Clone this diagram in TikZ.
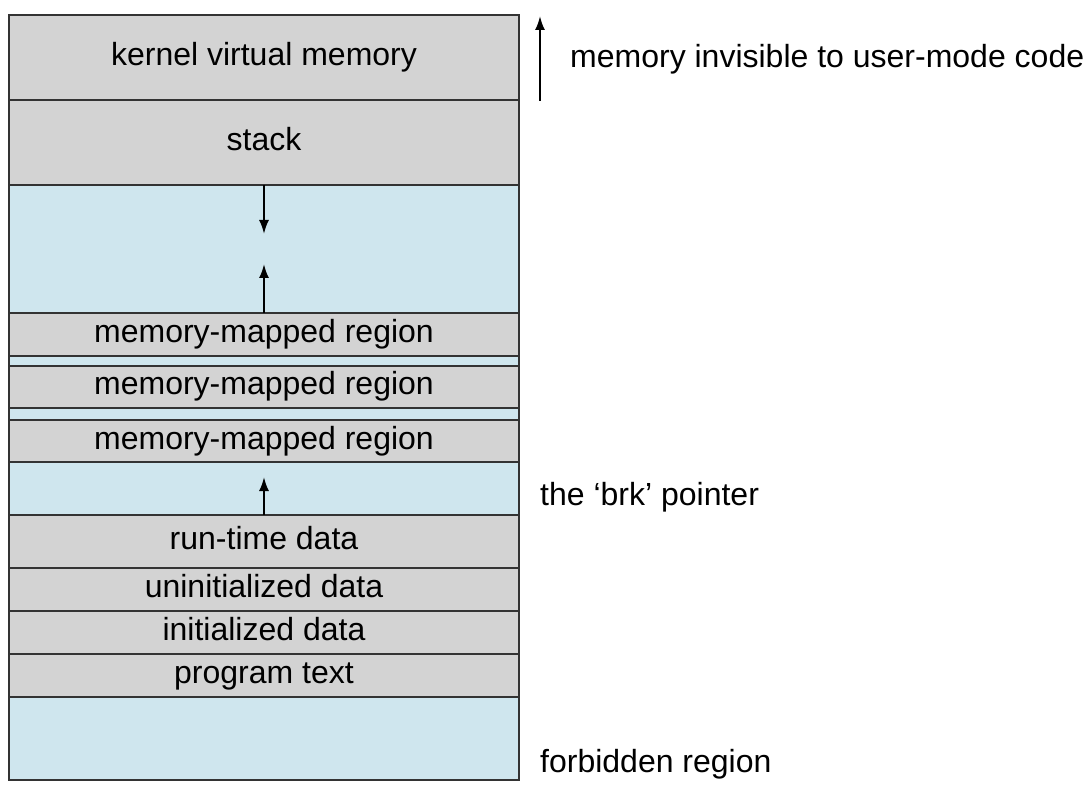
\documentclass[tikz,border=0pt]{standalone}
\usepackage{fontspec}
\setmainfont{Liberation Sans}
\usetikzlibrary{arrows.meta}
\definecolor{gr}{RGB}{211,211,211}
\definecolor{bl}{RGB}{207,230,238}
\begin{document}
\begin{tikzpicture}[x=1pt,y=-1pt,
  seg/.style={draw=black!80,line width=1.2pt},
  lbl/.style={font=\fontsize{32}{36}\selectfont,inner sep=0pt,text height=23pt,text depth=7pt},
  arr/.style={line width=2pt,-{Latex[length=14pt,width=10pt]}}]
\useasboundingbox (0,0) rectangle (1090,794);
\def\seg#1#2#3#4{\filldraw[seg,fill=#3] (9,#1) rectangle (519,#2); \node[lbl] at (264,{(#1+#2)/2}) {#4};}
\seg{15}{100}{gr}{kernel virtual memory}
\seg{100}{185}{gr}{stack}
\seg{185}{313}{bl}{}
\seg{313}{356}{gr}{memory-mapped region}
\seg{356}{366}{bl}{}
\seg{366}{408}{gr}{memory-mapped region}
\seg{408}{420}{bl}{}
\seg{420}{462}{gr}{memory-mapped region}
\seg{462}{515}{bl}{}
\seg{515}{568}{gr}{run-time data}
\seg{568}{611}{gr}{uninitialized data}
\seg{611}{654}{gr}{initialized data}
\seg{654}{697}{gr}{program text}
\seg{697}{780}{bl}{}
\coordinate (a1) at (264,185); \coordinate (a2) at (264,234);
\coordinate (b1) at (264,313); \coordinate (b2) at (264,264);
\coordinate (c1) at (264,515); \coordinate (c2) at (264,477);
\coordinate (d1) at (540,101); \coordinate (d2) at (540,16);
\draw[arr] (a1) -- (a2);
\draw[arr] (b1) -- (b2);
\draw[arr] (c1) -- (c2);
\draw[arr] (d1) -- (d2);
\node[lbl,anchor=west] (t1) at (570,60) {memory invisible to user-mode code};
\node[lbl,anchor=west] (t2) at (540,497) {the ‘brk’ pointer};
\node[lbl,anchor=west] (t3) at (540,764) {forbidden region};
\end{tikzpicture}
\end{document}
